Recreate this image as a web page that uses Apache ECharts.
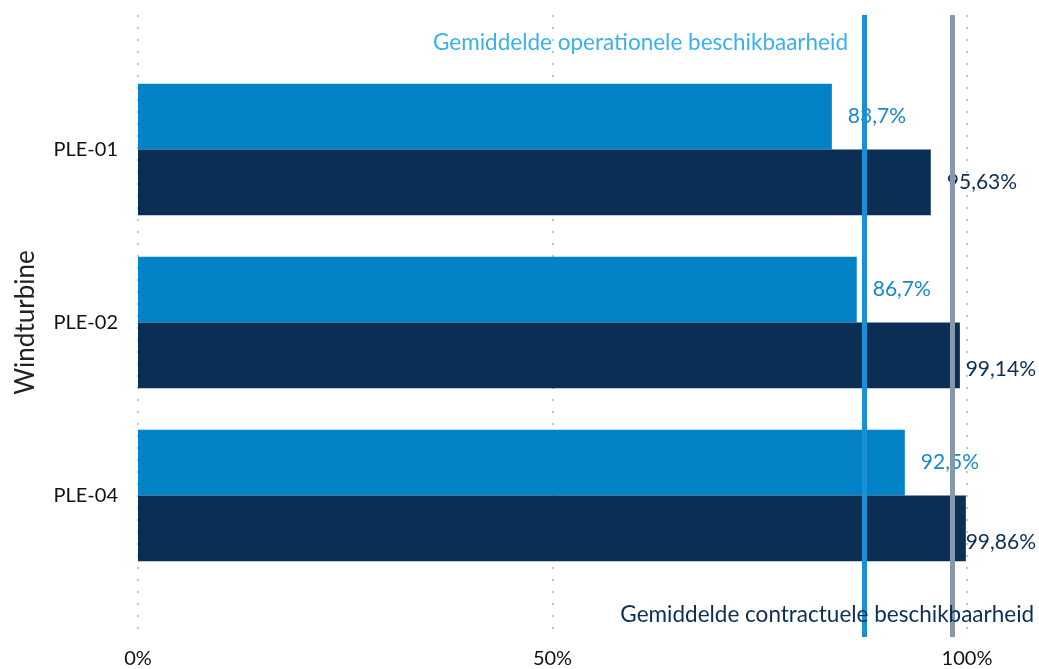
<!DOCTYPE html>
<html>
<head>
<meta charset="utf-8">
<script src="https://cdn.jsdelivr.net/npm/echarts@6/dist/echarts.min.js"></script>
<style>
  html, body { margin: 0; padding: 0; background: #fff; }
  #chart { width: 1039px; height: 669px; }
</style>
</head>
<body>
<div id="chart"></div>
<script>
var turbines = ['PLE-01', 'PLE-02', 'PLE-04'];
var operationeel = [83.7, 86.7, 92.5];
var contractueel = [95.63, 99.14, 99.86];
var xTicks = [0, 50, 100];

var lightBlue = '#0283c8';
var navy = '#0b2e55';
var fontName = 'Lato';
var chartWidth = 1039;

function mean(arr) {
    var s = 0;
    for (var i = 0; i < arr.length; i++) s += arr[i];
    return s / arr.length;
}
function pct(v) {
    return String(v).replace('.', ',') + '%';
}
// labels die buiten de rand vallen naar links schuiven
function keepInside(params) {
    var r = params.labelRect;
    var maxRight = chartWidth - 3;
    if (r.x + r.width > maxRight) {
        return { x: maxRight - r.width };
    }
}

var gemOperationeel = mean(operationeel);
var gemContractueel = mean(contractueel);

var chart = echarts.init(document.getElementById('chart'));

var option = {
    animation: false,
    textStyle: { fontFamily: fontName },
    grid: [
        { left: 138, right: 72, top: 63, bottom: 87 },
        { left: 138, right: 72, top: 15, bottom: 32 }
    ],
    xAxis: [{
        gridIndex: 0,
        type: 'value',
        min: 0,
        max: 100,
        show: false
    }, {
        gridIndex: 1,
        type: 'value',
        min: xTicks[0],
        max: xTicks[xTicks.length - 1],
        interval: xTicks[1] - xTicks[0],
        axisLine: { show: false },
        axisTick: { show: false },
        axisLabel: {
            formatter: '{value}%',
            color: '#111',
            fontSize: 20,
            margin: 12
        },
        splitLine: {
            show: true,
            lineStyle: { color: '#c4c4c4', width: 2, type: [2, 10] }
        }
    }],
    yAxis: [{
        gridIndex: 0,
        type: 'category',
        inverse: true,
        data: turbines,
        name: 'Windturbine',
        nameLocation: 'middle',
        nameGap: 99,
        nameTextStyle: { fontSize: 26, color: '#222' },
        axisLine: { show: false },
        axisTick: { show: false },
        axisLabel: { color: '#111', fontSize: 20, margin: 20 }
    }, {
        gridIndex: 1,
        type: 'value',
        min: 0,
        max: 100,
        show: false
    }],
    series: [{
        name: 'Operationele beschikbaarheid',
        type: 'bar',
        xAxisIndex: 0,
        yAxisIndex: 0,
        data: operationeel,
        barGap: '0%',
        barCategoryGap: '24%',
        itemStyle: { color: lightBlue },
        label: {
            show: true,
            position: 'right',
            distance: 16,
            offset: [0, 3],
            color: '#1a88cc',
            fontSize: 21,
            formatter: function (p) { return pct(p.value); }
        },
        labelLayout: keepInside
    }, {
        name: 'Contractuele beschikbaarheid',
        type: 'bar',
        xAxisIndex: 0,
        yAxisIndex: 0,
        data: contractueel,
        itemStyle: { color: navy },
        label: {
            show: true,
            position: 'right',
            distance: 16,
            offset: [0, 3],
            color: navy,
            fontSize: 21,
            formatter: function (p) { return pct(p.value); }
        },
        labelLayout: keepInside
    }, {
        name: 'gemiddelden',
        type: 'scatter',
        xAxisIndex: 1,
        yAxisIndex: 1,
        z: 5,
        data: [],
        markLine: {
            silent: true,
            symbol: 'none',
            label: { show: false },
            data: [
                [{ coord: [gemOperationeel, 0], lineStyle: { color: '#1a8fd6', width: 5, type: 'solid' } },
                 { coord: [gemOperationeel, 100] }],
                [{ coord: [gemContractueel, 0], lineStyle: { color: '#8798ad', width: 5, type: 'solid' } },
                 { coord: [gemContractueel, 100] }]
            ]
        },
        markPoint: {
            silent: true,
            symbol: 'circle',
            symbolSize: 1,
            itemStyle: { color: 'rgba(0,0,0,0)' },
            data: [{
                name: 'Gemiddelde operationele beschikbaarheid',
                coord: [gemOperationeel, 95.5],
                label: {
                    show: true,
                    position: 'left',
                    distance: 16,
                    color: '#3bb0f0',
                    fontSize: 22.5,
                    formatter: '{b}'
                }
            }, {
                name: 'Gemiddelde contractuele beschikbaarheid',
                coord: [gemContractueel, 3.5],
                label: {
                    show: true,
                    position: 'inside',
                    align: 'right',
                    offset: [82, 0],
                    color: navy,
                    fontSize: 22.5,
                    formatter: '{b}'
                }
            }]
        }
    }]
};

chart.setOption(option);
</script>
</body>
</html>
